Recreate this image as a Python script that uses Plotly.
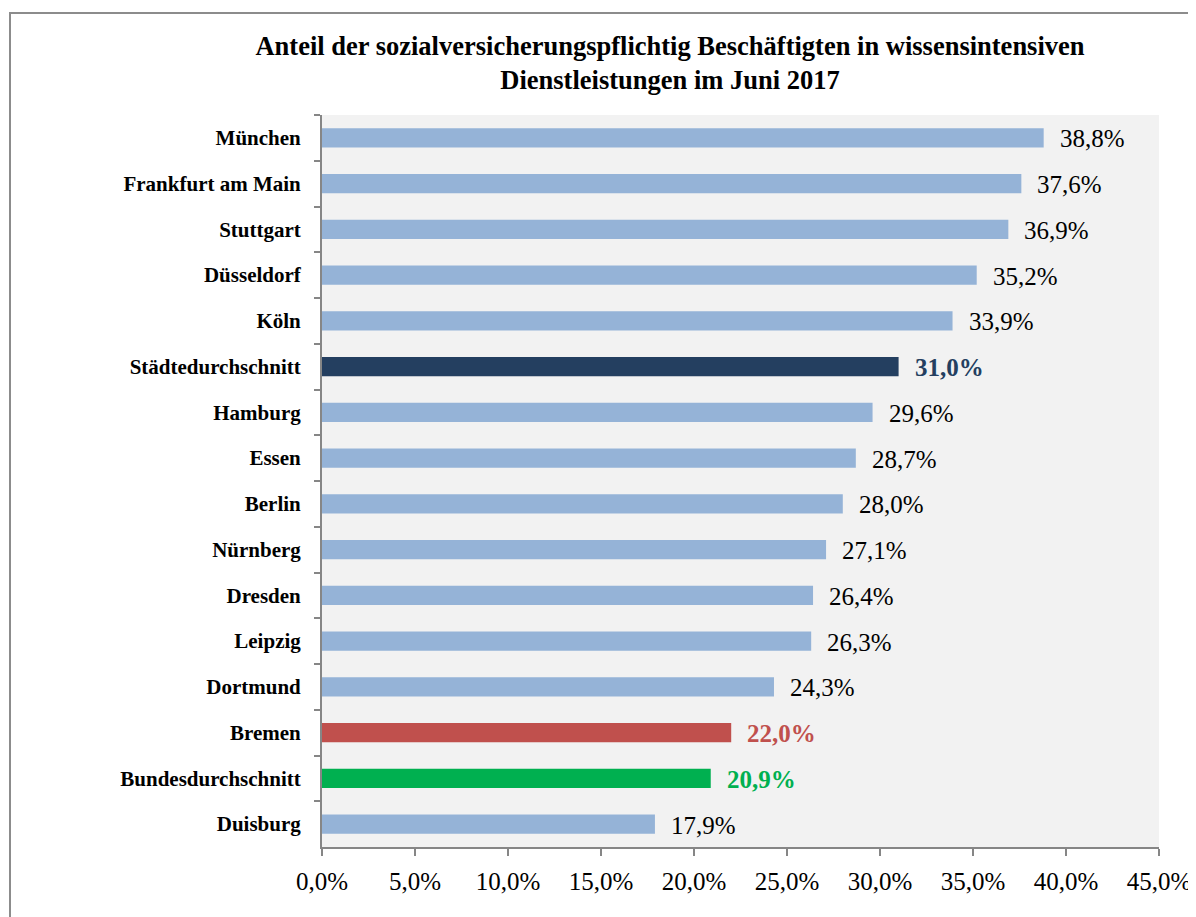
import plotly.graph_objects as go

# data
cities = ["München", "Frankfurt am Main", "Stuttgart", "Düsseldorf", "Köln",
          "Städtedurchschnitt", "Hamburg", "Essen", "Berlin", "Nürnberg",
          "Dresden", "Leipzig", "Dortmund", "Bremen", "Bundesdurchschnitt",
          "Duisburg"]
shares = [38.8, 37.6, 36.9, 35.2, 33.9, 31.0, 29.6, 28.7, 28.0, 27.1,
          26.4, 26.3, 24.3, 22.0, 20.9, 17.9]

BASE = "#95b3d7"
special = {
    "Städtedurchschnitt": "#243f60",
    "Bremen": "#c0504d",
    "Bundesdurchschnitt": "#00b050",
}
bar_colors = [special.get(c, BASE) for c in cities]

FONT = "Liberation Serif, Times New Roman, serif"

fig = go.Figure()
fig.add_trace(go.Bar(
    x=shares,
    y=cities,
    orientation="h",
    marker=dict(color=bar_colors, line=dict(width=0)),
    hoverinfo="x+y",
))

# value labels
for c, v in zip(cities, shares):
    is_special = c in special
    txt = f"{v:.1f}%".replace(".", ",")
    fig.add_annotation(
        x=v, y=c, xref="x", yref="y",
        text=f"<b>{txt}</b>" if is_special else txt,
        showarrow=False, xanchor="left", xshift=14, yshift=-1,
        font=dict(family=FONT, size=25,
                  color=special[c] if is_special else "black"),
    )

# page has an 8px body margin, so offsets are relative to that
L, R, T, B = 314, 45, 107, 78
W, H = 1196, 917
pw, ph = W - L - R, H - T - B

# outer frame
fig.add_shape(
    type="rect", xref="paper", yref="paper",
    x0=(2 - L) / pw, x1=(W + 20 - L) / pw,
    y0=(H - B - (H + 20)) / ph, y1=(H - B - 5) / ph,
    line=dict(color="#8c8c8c", width=2), fillcolor="rgba(0,0,0,0)",
    layer="below",
)

fig.update_layout(
    width=W, height=H,
    margin=dict(l=L, r=R, t=T, b=B),
    paper_bgcolor="white",
    plot_bgcolor="#f2f2f2",
    separators=",.",
    showlegend=False,
    bargap=0.58,
    font=dict(family=FONT, color="black"),
    title=dict(
        text="<b>Anteil der sozialversicherungspflichtig Beschäftigten in wissensintensiven<br>Dienstleistungen im Juni 2017</b>",
        x=662 / W, xanchor="center", xref="container",
        y=1 - 47 / H, yanchor="top",
        font=dict(family=FONT, size=26.5, color="black"),
    ),
    xaxis=dict(
        range=[0, 45], dtick=5, tickformat=".1f", ticksuffix="%",
        showgrid=False, zeroline=False,
        showline=True, linecolor="#868686", linewidth=2,
        ticks="outside", ticklen=7, tickcolor="#868686", tickwidth=2,
        ticklabelstandoff=4,
        tickfont=dict(family=FONT, size=25, color="black"),
        automargin=False,
        fixedrange=True,
    ),
    yaxis=dict(
        type="category", autorange="reversed",
        showgrid=False, zeroline=False,
        showline=True, linecolor="#868686", linewidth=2,
        ticks="outside", ticklen=6, tickcolor="#868686", tickwidth=2,
        tickson="boundaries",
        ticklabelstandoff=15,
        tickfont=dict(family=FONT, size=21, color="black", weight="bold"),
        automargin=False,
        fixedrange=True,
    ),
)

fig.write_html("out.html")
